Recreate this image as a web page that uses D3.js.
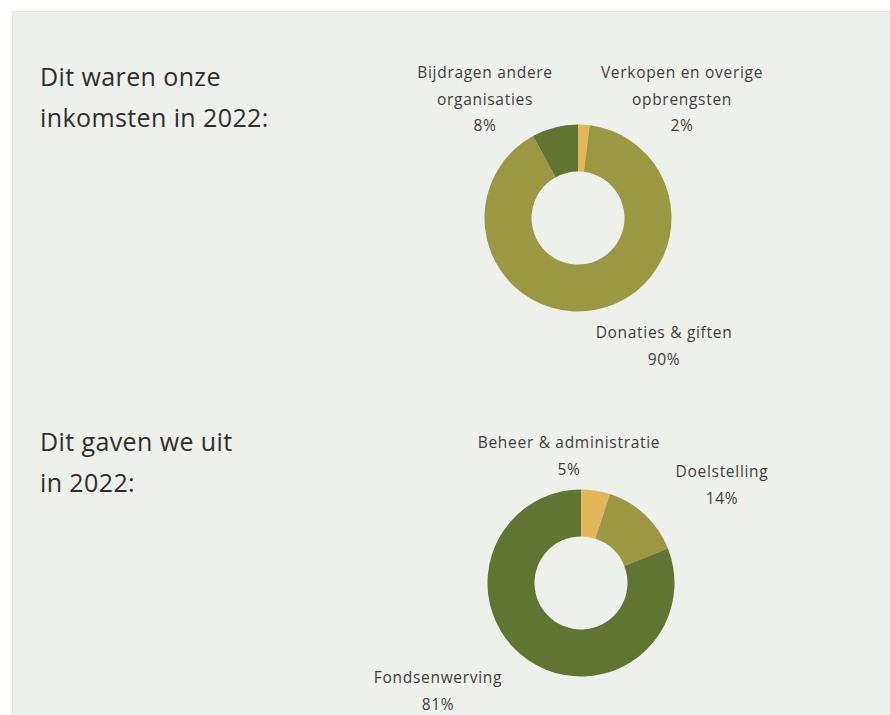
<!DOCTYPE html>
<html>
<head>
<meta charset="utf-8">
<script src="https://cdn.jsdelivr.net/npm/d3@7"></script>
<style>
  html, body { margin: 0; padding: 0; background: #ffffff; }
  svg { display: block; }
</style>
</head>
<body>
<script>
// ---- data ----
const incomeCategories = ["Verkopen en overige opbrengsten", "Donaties & giften", "Bijdragen andere organisaties"];
const incomeValues = [2, 90, 8];
const incomeLabelLines = [["Verkopen en overige", "opbrengsten", "2%"], ["Donaties & giften", "90%"], ["Bijdragen andere", "organisaties", "8%"]];

const spendCategories = ["Beheer & administratie", "Doelstelling", "Fondsenwerving"];
const spendValues = [5, 14, 81];
const spendLabelLines = [["Beheer & administratie", "5%"], ["Doelstelling", "14%"], ["Fondsenwerving", "81%"]];

const titles = [["Dit waren onze", "inkomsten in 2022:"], ["Dit gaven we uit", "in 2022:"]];

// ---- layout ----
const W = 890, H = 715;
const colors = { yellow: "#e2b75c", olive: "#9b9743", green: "#627431" };
const font = "'Open Sans', 'Noto Sans', sans-serif";

const svg = d3.select("body").append("svg").attr("width", W).attr("height", H);
svg.append("rect").attr("width", W).attr("height", H).attr("fill", "#ffffff");
svg.append("rect").attr("x", 12.5).attr("y", 11.5).attr("width", W).attr("height", H)
  .attr("fill", "#eef0eb").attr("stroke", "#e2e4df").attr("stroke-width", 1);

const charts = [
  { cats: incomeCategories, vals: incomeValues, lines: incomeLabelLines,
    colors: [colors.yellow, colors.olive, colors.green],
    cx: 578, cy: 218, title: titles[0], titleY: 86,
    labelPos: [[682, 78], [664, 338], [485, 78]] },
  { cats: spendCategories, vals: spendValues, lines: spendLabelLines,
    colors: [colors.yellow, colors.olive, colors.green],
    cx: 581, cy: 583, title: titles[1], titleY: 451,
    labelPos: [[569, 448], [722, 477], [438, 683]] }
];

const outerR = 93.5, innerR = 46.5;
const pie = d3.pie().sort(null).value(d => d).startAngle(0).endAngle(2 * Math.PI);
const arc = d3.arc().innerRadius(innerR).outerRadius(outerR);

charts.forEach(c => {
  // title
  const t = svg.append("text").attr("x", 40).attr("y", c.titleY)
    .attr("font-family", font).attr("font-size", 25).attr("letter-spacing", 0.4)
    .attr("fill", "#2e2e2e");
  c.title.forEach((line, i) => {
    t.append("tspan").attr("x", 40).attr("dy", i === 0 ? 0 : 41).text(line);
  });

  const color = d3.scaleOrdinal().domain(c.cats).range(c.colors);
  const g = svg.append("g").attr("transform", `translate(${c.cx},${c.cy})`);
  g.selectAll("path").data(pie(c.vals)).join("path")
    .attr("d", arc)
    .attr("fill", (d, i) => color(c.cats[i]));

  // labels
  c.lines.forEach((lines, i) => {
    const [lx, ly] = c.labelPos[i];
    const lt = svg.append("text").attr("x", lx).attr("y", ly)
      .attr("text-anchor", "middle")
      .attr("font-family", font).attr("font-size", 15.5).attr("letter-spacing", 0.7)
      .attr("fill", "#3e3e3e");
    lines.forEach((line, j) => {
      lt.append("tspan").attr("x", lx).attr("dy", j === 0 ? 0 : 26.5).text(line);
    });
  });
});
</script>
</body>
</html>
